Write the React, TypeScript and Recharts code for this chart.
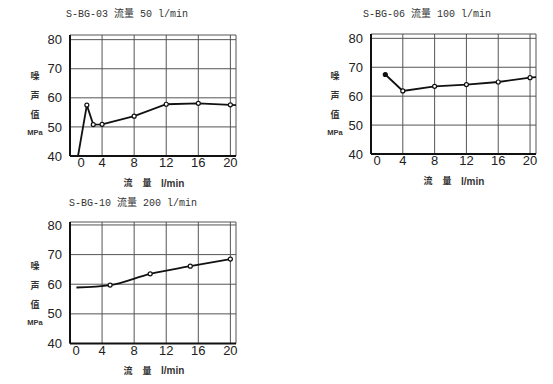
import React from "react";
import { LineChart, Line, XAxis, YAxis, CartesianGrid } from "recharts";

// x = flow (l/min), y = noise value
const S03_X = [1.0, 2.1, 2.9, 4, 8, 12, 16, 20, 20.7];
const S03_Y = [40, 57.5, 50.8, 50.9, 53.7, 57.8, 58.1, 57.6, 57.5];

const S06_X = [1.8, 4, 8, 12, 16, 20, 20.75];
const S06_Y = [67.5, 61.8, 63.4, 64.0, 64.9, 66.4, 66.6];

const S10_X = [0.8, 5, 10, 15, 20];
const S10_Y = [58.9, 59.7, 63.5, 66.1, 68.5];

const X_TICKS = [0, 4, 8, 12, 16, 20];
const Y_TICKS = [40, 50, 60, 70, 80];

const TITLES = ["S-BG-03 流量 50 l/min", "S-BG-06 流量 100 l/min", "S-BG-10 流量 200 l/min"];
const Y_LABEL = ["噪", "声", "值", "MPa"];
const X_LABEL = ["流", "量", "l/min"];

const SANS = "'Liberation Sans', Arial, sans-serif";
const CJK = "'Noto Sans CJK SC', sans-serif";
const MONO = "'Liberation Mono', 'DejaVu Sans Mono', 'Noto Sans CJK SC', monospace";

interface ChartCfg {
  title: string;
  xs: number[];
  ys: number[];
  left: number;
  top: number;
  width: number;
  height: number;
  plotLeft: number;
  plotTop: number;
  plotRight: number;
  plotBottom: number;
  xMax: number;
  yMax: number;
  zeroDx: number;
  titleX: number;
  titleY: number;
  noMarker: number[];
  filled: number[];
  curve: "linear" | "monotone";
}

const charts: ChartCfg[] = [
  {
    title: TITLES[0], xs: S03_X, ys: S03_Y,
    left: 0, top: 0, width: 250, height: 190,
    plotLeft: 70, plotTop: 35, plotRight: 236, plotBottom: 156,
    xMax: 20.7, yMax: 81.6, zeroDx: 11, titleX: 127, titleY: 15,
    noMarker: [0, 8], filled: [], curve: "linear",
  },
  {
    title: TITLES[1], xs: S06_X, ys: S06_Y,
    left: 300, top: 0, width: 253, height: 190,
    plotLeft: 71, plotTop: 34, plotRight: 236, plotBottom: 154,
    xMax: 20.75, yMax: 81.5, zeroDx: 6, titleX: 127, titleY: 15,
    noMarker: [6], filled: [0], curve: "linear",
  },
  {
    title: TITLES[2], xs: S10_X, ys: S10_Y,
    left: 0, top: 190, width: 250, height: 194,
    plotLeft: 70, plotTop: 32, plotRight: 236, plotBottom: 153.5,
    xMax: 20.7, yMax: 81.0, zeroDx: 6, titleX: 133, titleY: 14,
    noMarker: [0], filled: [], curve: "monotone",
  },
];

function YLabel({ viewBox }: any) {
  const cx = (viewBox?.x ?? 0) + 35;
  const ys = [76, 96, 114.5, 132.5];
  return (
    <g>
      {Y_LABEL.map((t, i) => (
        <text
          key={t}
          x={cx}
          y={ys[i]}
          dy="0.35em"
          textAnchor="middle"
          fontFamily={i === 3 ? SANS : CJK}
          fontSize={i === 3 ? 7.5 : 9}
          fontWeight="bold"
          fill="#333"
        >
          {t}
        </text>
      ))}
    </g>
  );
}

function XLabel({ y }: { y: number }) {
  return (
    <g>
      <text x={128} y={y} dy="0.35em" textAnchor="middle" fontFamily={CJK} fontSize={9} fontWeight="bold" fill="#333">
        {X_LABEL[0]}
      </text>
      <text x={147} y={y} dy="0.35em" textAnchor="middle" fontFamily={CJK} fontSize={9} fontWeight="bold" fill="#333">
        {X_LABEL[1]}
      </text>
      <text x={161} y={y} dy="0.35em" textAnchor="start" fontFamily={SANS} fontSize={10} fontWeight="bold" fill="#333">
        {X_LABEL[2]}
      </text>
    </g>
  );
}

function Panel({ c }: { c: ChartCfg }) {
  const data = c.xs.map((x, i) => ({ x, y: c.ys[i] }));
  const renderDot = (p: any) => {
    const { cx, cy, index } = p;
    if (c.noMarker.includes(index)) return <g key={`d${index}`} />;
    const filled = c.filled.includes(index);
    return (
      <circle
        key={`d${index}`}
        cx={cx}
        cy={cy}
        r={2}
        fill={filled ? "#111" : "#fff"}
        stroke="#111"
        strokeWidth={1.2}
      />
    );
  };
  const xTick = (p: any) => {
    const v = p.payload.value;
    return (
      <text
        x={p.x + (v === 0 ? c.zeroDx : 0)}
        y={p.y}
        dy="0.71em"
        textAnchor="middle"
        fontFamily={SANS}
        fontSize={13}
        fill="#222"
      >
        {v}
      </text>
    );
  };
  return (
    <div style={{ position: "absolute", left: c.left, top: c.top, width: c.width, height: c.height }}>
      <div
        style={{
          position: "absolute",
          left: c.titleX - 80,
          width: 160,
          top: c.titleY - 7,
          height: 14,
          lineHeight: "14px",
          textAlign: "center",
          fontFamily: MONO,
          fontSize: 10,
          color: "#333",
          whiteSpace: "nowrap",
        }}
      >
        {c.title}
      </div>
      <LineChart
        width={c.width}
        height={c.height}
        data={data}
        margin={{ top: c.plotTop, right: c.width - c.plotRight, left: 0, bottom: 0 }}
      >
        <CartesianGrid stroke="#555" strokeWidth={1} />
        <XAxis
          type="number"
          dataKey="x"
          domain={[0, c.xMax]}
          ticks={X_TICKS}
          interval={0}
          tickLine={false}
          tickSize={0}
          tickMargin={2}
          height={c.height - c.plotBottom}
          axisLine={{ stroke: "#111", strokeWidth: 2 }}
          tick={xTick}
          label={{ content: () => <XLabel y={c.plotBottom + 27} /> }}
        />
        <YAxis
          type="number"
          domain={[40, c.yMax]}
          ticks={Y_TICKS}
          interval={0}
          width={c.plotLeft}
          tickLine={false}
          tickSize={6}
          tickMargin={2}
          axisLine={{ stroke: "#111", strokeWidth: 2 }}
          tick={{ fontFamily: SANS, fontSize: 13, fill: "#222" }}
          label={{ content: (p: any) => <YLabel {...p} /> }}
        />
        <Line
          type={c.curve}
          dataKey="y"
          stroke="#111"
          strokeWidth={1.8}
          dot={renderDot}
          activeDot={false}
          isAnimationActive={false}
        />
      </LineChart>
    </div>
  );
}

export default function App() {
  return (
    <div style={{ position: "absolute", left: 0, top: 0, width: 553, height: 384, background: "#fff" }}>
      {charts.map((c) => (
        <Panel key={c.title} c={c} />
      ))}
    </div>
  );
}
